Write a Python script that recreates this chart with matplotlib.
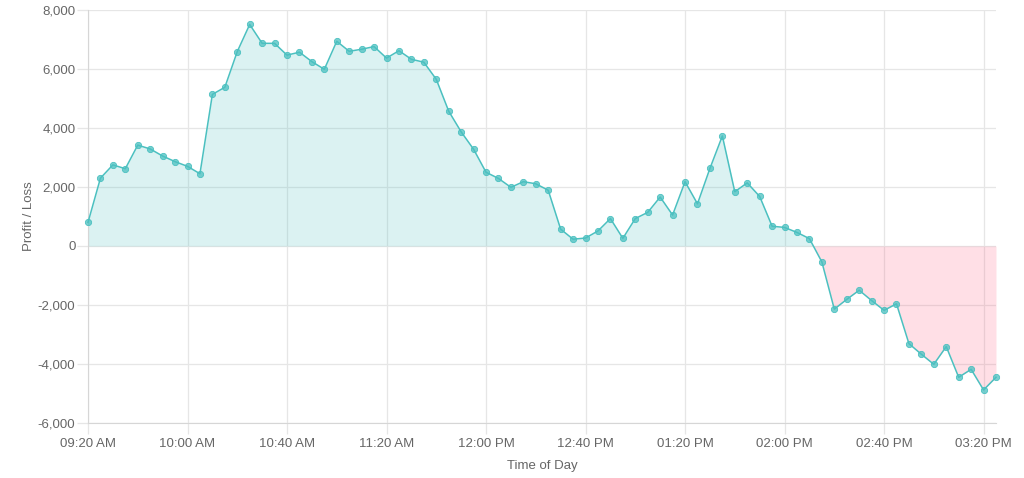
import matplotlib
matplotlib.use("Agg")
import matplotlib.pyplot as plt
import matplotlib.dates as mdates
import numpy as np
import pandas as pd

plt.rcParams['font.family'] = ['Liberation Sans', 'DejaVu Sans']

# 5-minute samples from 09:20 AM to 03:25 PM
times = pd.date_range('2024-01-02 09:20', '2024-01-02 15:25', freq='5min')
pnl = [800, 2300, 2750, 2620, 3420, 3290, 3050, 2860, 2700, 2450,
       5140, 5380, 6590, 7510, 6870, 6870, 6470, 6570, 6250, 5990,
       6940, 6600, 6670, 6760, 6370, 6620, 6330, 6230, 5650, 4570,
       3870, 3280, 2500, 2290, 1990, 2180, 2110, 1890, 570, 230,
       270, 510, 930, 260, 930, 1140, 1660, 1050, 2180, 1430,
       2630, 3730, 1840, 2140, 1680, 670, 630, 460, 250, -540,
       -2140, -1810, -1500, -1850, -2180, -1960, -3310, -3670, -4010, -3410,
       -4450, -4180, -4880, -4450]
y_ticks = [-6000, -4000, -2000, 0, 2000, 4000, 6000, 8000]

line_color = '#4bc0c0'
grid_color = '#e6e6e6'
text_color = '#666666'

x = mdates.date2num(times)
y = np.array(pnl, dtype=float)

fig = plt.figure(figsize=(10.24, 4.78), dpi=100)
ax = fig.add_axes([88 / 1024, 1 - 423 / 478, (996 - 88) / 1024, (423 - 10) / 478])

ax.fill_between(x, y, 0, where=y >= 0, interpolate=True,
                color=(75 / 255, 192 / 255, 192 / 255, 0.2), linewidth=0)
ax.fill_between(x, y, 0, where=y <= 0, interpolate=True,
                color=(255 / 255, 99 / 255, 132 / 255, 0.2), linewidth=0)
ax.plot(x, y, color=line_color, linewidth=1.1, marker='o', markersize=4.5,
        markerfacecolor=(75 / 255, 192 / 255, 192 / 255, 0.75),
        markeredgecolor=line_color, markeredgewidth=0.6, clip_on=False, zorder=3)

ax.set_xlim(x[0], x[-1])
ax.set_ylim(-6000, 8000)
ax.set_yticks(y_ticks)
ax.yaxis.set_major_formatter(matplotlib.ticker.FuncFormatter(lambda v, p: f'{int(v):,}'))
tick_times = pd.date_range('2024-01-02 09:20', '2024-01-02 15:20', freq='40min')
ax.set_xticks(mdates.date2num(tick_times))
ax.xaxis.set_major_formatter(mdates.DateFormatter('%I:%M %p'))

ax.grid(True, color=grid_color, linewidth=0.9)
ax.set_axisbelow(True)
for side in ['top', 'right']:
    ax.spines[side].set_visible(False)
for side in ['left', 'bottom']:
    ax.spines[side].set_color('#d6d6d6')
ax.tick_params(axis='both', colors=grid_color, length=8, width=0.9,
               labelcolor=text_color, labelsize=9.5)
ax.tick_params(axis='x', pad=3)
ax.tick_params(axis='y', pad=1)

ax.set_xlabel('Time of Day', color=text_color, fontsize=9.5, labelpad=7)
ax.set_ylabel('Profit / Loss', color=text_color, fontsize=9.5, labelpad=2)

fig.savefig('out.png', dpi=100)
plt.close(fig)
